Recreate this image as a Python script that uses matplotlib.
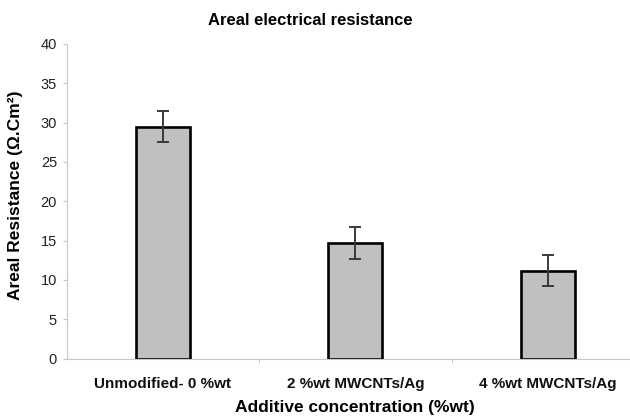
import matplotlib.pyplot as plt

plt.rcParams['font.family'] = ['Liberation Sans', 'DejaVu Sans']

categories = ['Unmodified- 0 %wt', '2 %wt MWCNTs/Ag', '4 %wt MWCNTs/Ag']
resistance = [29.5, 14.7, 11.2]
errors = [2.0, 2.0, 2.0]
yticks = [0, 5, 10, 15, 20, 25, 30, 35, 40]

fig = plt.figure(figsize=(6.3, 4.18), dpi=100)
ax = fig.add_axes([0.106, 0.142, 0.916, 0.753])

x = range(len(categories))
ax.bar(x, resistance, width=0.28, color='#c0c0c0', edgecolor='black', linewidth=1.9,
       yerr=errors, error_kw=dict(ecolor='#3a3a3a', elinewidth=1.4, capsize=4, capthick=1.4))

ax.set_xlim(-0.5, 2.5)
ax.set_ylim(0, 40)
ax.set_yticks(yticks)
ax.set_xticks([0.5, 1.5])
ax.set_xticklabels([])
ax.tick_params(axis='both', color='#c8c8c8', length=3, width=0.8)
ax.tick_params(axis='y', labelsize=10.5, labelcolor='#222222', pad=4)
for i, c in enumerate(categories):
    ax.text(i, -2.3, c, ha='center', va='top', fontsize=11, fontweight='bold', color='#111111')

for s in ['top', 'right']:
    ax.spines[s].set_visible(False)
for s in ['left', 'bottom']:
    ax.spines[s].set_color('#c8c8c8')
    ax.spines[s].set_linewidth(0.8)

fig.text(0.025, 0.533, 'Areal Resistance (\u03a9.Cm\u00b2)', rotation=90, ha='center', va='center',
         fontsize=12.5, fontweight='bold')
fig.text(0.564, 0.025, 'Additive concentration (%wt)', ha='center', va='center',
         fontsize=12.5, fontweight='bold')
fig.text(0.493, 0.952, 'Areal electrical resistance', ha='center', va='center',
         fontsize=12, fontweight='bold')

fig.savefig('out.png', dpi=100)
